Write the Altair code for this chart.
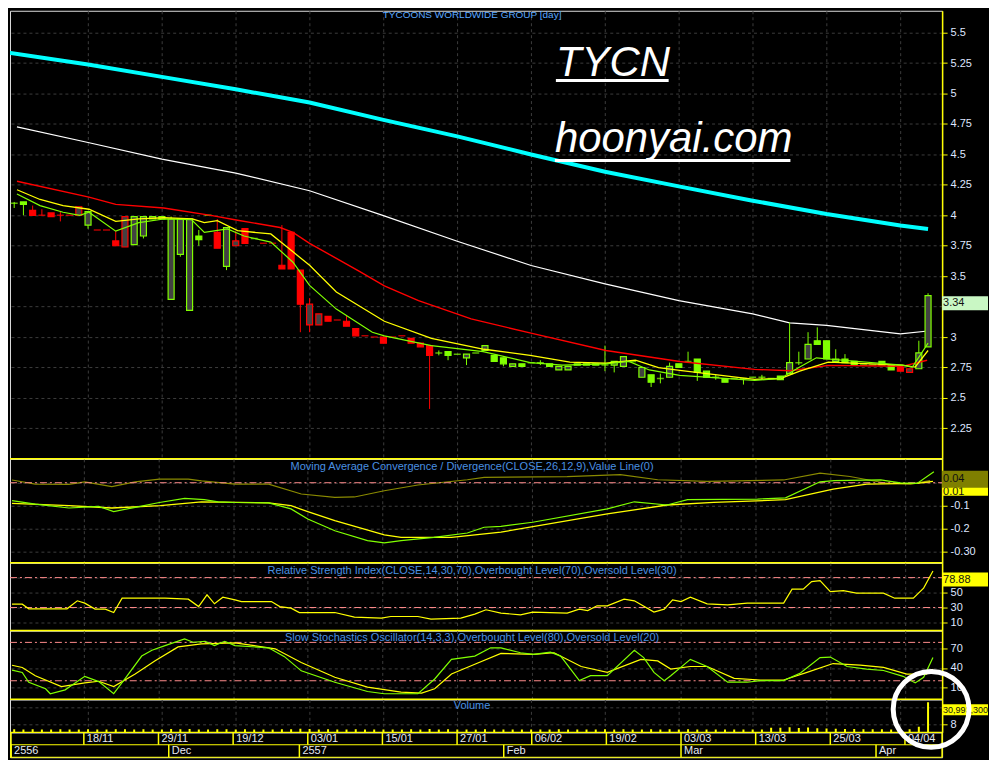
import altair as alt
import pandas as pd

# ---------------- layout (pixels) ----------------
W = 934
BOX_W = 46
H_PRICE, H_MACD, H_RSI, H_STO, H_VOL, H_AX = 449, 104, 68, 69, 33, 25
XDOM = [0.086, 99.98]

# ---------------- x axis labels ----------------
GRID_IDX = [8, 16, 24, 32, 40, 48, 56, 64, 72, 80, 88, 96]
DATE_LABELS = ["18/11", "29/11", "19/12", "03/01", "15/01", "27/01",
               "06/02", "19/02", "03/03", "13/03", "25/03", "04/04"]
MONTH_IDX = [0.2, 17.1, 31.1, 53.0, 72.0, 92.9]
MONTH_LABELS = ["2556", "Dec", "2557", "Feb", "Mar", "Apr"]

# ---------------- candles ----------------
OPEN = [4.10, 4.11, 4.04, 4.00, 4.02, 4.00, 4.00, 4.00, 3.92, 3.88,
        3.88, 3.79, 3.74, 3.76, 3.83, 3.97, 3.97, 3.31, 3.68, 3.22,
        3.83, 4.00, 3.86, 3.58, 3.75, 3.89, 3.81, 3.77, 3.77, 3.59,
        3.86, 3.55, 3.10, 3.10, 3.17, 3.14, 3.13, 3.07, 3.01, 3.00,
        3.00, 3.00, 3.01, 2.99, 2.95, 2.93, 2.87, 2.88, 2.86, 2.83,
        2.87, 2.89, 2.85, 2.83, 2.76, 2.78, 2.79, 2.79, 2.78, 2.73,
        2.73, 2.77, 2.78, 2.77, 2.77, 2.77, 2.76, 2.80, 2.67, 2.69,
        2.66, 2.67, 2.78, 2.80, 2.82, 2.72, 2.67, 2.66, 2.66, 2.66,
        2.67, 2.67, 2.66, 2.68, 2.70, 2.79, 2.82, 2.97, 2.97, 2.80,
        2.82, 2.80, 2.77, 2.77, 2.80, 2.77, 2.75, 2.71, 2.74, 2.92]
HIGH = [4.11, 4.11, 4.08, 4.05, 4.02, 4.03, 4.00, 4.07, 4.03, 3.88,
        3.88, 3.87, 3.99, 3.99, 3.99, 3.99, 3.99, 3.99, 3.97, 3.97,
        3.88, 4.00, 3.97, 3.90, 3.87, 3.89, 3.81, 3.77, 3.77, 3.92,
        3.86, 3.55, 3.32, 3.19, 3.17, 3.14, 3.18, 3.07, 3.01, 3.00,
        3.00, 3.00, 3.01, 2.99, 2.95, 2.93, 2.89, 2.88, 2.86, 2.86,
        2.87, 2.93, 2.85, 2.83, 2.78, 2.78, 2.79, 2.81, 2.78, 2.76,
        2.76, 2.78, 2.78, 2.78, 2.93, 2.80, 2.84, 2.80, 2.75, 2.69,
        2.70, 2.79, 2.78, 2.88, 2.82, 2.72, 2.69, 2.66, 2.66, 2.66,
        2.67, 2.69, 2.66, 2.68, 3.12, 2.88, 3.04, 3.08, 2.97, 2.90,
        2.86, 2.80, 2.77, 2.77, 2.80, 2.77, 2.75, 2.74, 2.97, 3.36]
LOW = [4.06, 4.00, 4.00, 4.00, 3.99, 3.95, 4.00, 4.00, 3.89, 3.88,
       3.88, 3.75, 3.74, 3.76, 3.81, 3.97, 3.97, 3.31, 3.66, 3.22,
       3.75, 4.00, 3.73, 3.55, 3.75, 3.77, 3.81, 3.77, 3.77, 3.56,
       3.56, 3.04, 3.04, 3.10, 3.13, 3.14, 3.09, 3.01, 3.01, 3.00,
       2.95, 3.00, 3.01, 2.95, 2.92, 2.41, 2.85, 2.81, 2.86, 2.77,
       2.87, 2.89, 2.80, 2.76, 2.76, 2.76, 2.79, 2.77, 2.76, 2.73,
       2.73, 2.77, 2.77, 2.77, 2.72, 2.71, 2.76, 2.80, 2.67, 2.59,
       2.62, 2.67, 2.75, 2.80, 2.64, 2.67, 2.65, 2.63, 2.66, 2.61,
       2.67, 2.65, 2.66, 2.65, 2.70, 2.77, 2.82, 2.94, 2.82, 2.80,
       2.79, 2.77, 2.77, 2.77, 2.77, 2.73, 2.72, 2.71, 2.74, 2.92]
CLOSE = [4.10, 4.09, 4.00, 4.00, 3.99, 4.00, 4.00, 4.07, 4.03, 3.88,
         3.88, 3.75, 3.99, 3.99, 3.99, 3.99, 3.99, 3.97, 3.97, 3.97,
         3.80, 4.00, 3.73, 3.90, 3.79, 3.77, 3.81, 3.77, 3.77, 3.56,
         3.56, 3.27, 3.27, 3.19, 3.13, 3.14, 3.09, 3.01, 3.01, 3.00,
         2.95, 3.00, 3.01, 2.95, 2.92, 2.85, 2.87, 2.85, 2.86, 2.86,
         2.87, 2.93, 2.80, 2.78, 2.78, 2.76, 2.79, 2.79, 2.76, 2.76,
         2.76, 2.78, 2.77, 2.78, 2.77, 2.80, 2.84, 2.80, 2.75, 2.63,
         2.66, 2.76, 2.75, 2.80, 2.71, 2.67, 2.67, 2.63, 2.66, 2.66,
         2.67, 2.67, 2.66, 2.65, 2.79, 2.79, 2.94, 2.94, 2.82, 2.82,
         2.79, 2.77, 2.77, 2.77, 2.77, 2.73, 2.72, 2.74, 2.87, 3.34]
CANDLE_COLOR = list("ggrrrrrrgrrrrgggggggggrgrrg"
                    "rrrrrrrrrrrrrrrrrrr"
                    "gggggggggggggggggggggggggggggggggggggggggggggggggg"
                    "rrgg")
HOLLOW_IDX = [7, 8, 12, 13, 14, 15, 16, 17, 18, 19, 23, 24, 32, 33, 49, 51, 54,
              59, 60, 61, 63, 65, 66, 68, 71, 84, 86, 89, 97, 98, 99]
VOLUME = [3.2, 3.0, 3.1, 2.9, 3.0, 3.1, 2.9, 3.0, 3.2, 3.0,
          3.0, 3.1, 3.2, 3.0, 3.1, 2.9, 3.0, 3.4, 3.1, 3.5,
          3.0, 2.9, 3.1, 3.2, 3.0, 3.1, 2.9, 3.0, 3.0, 3.2,
          3.1, 3.6, 3.3, 3.0, 3.1, 2.9, 3.0, 3.1, 3.0, 2.9,
          3.0, 2.9, 3.0, 3.1, 3.0, 3.4, 3.0, 3.1, 2.9, 3.0,
          3.0, 3.1, 3.0, 2.9, 3.0, 3.0, 2.9, 3.0, 3.0, 3.1,
          3.0, 2.9, 3.0, 3.0, 3.2, 3.0, 3.1, 2.9, 3.0, 3.1,
          3.0, 3.1, 3.0, 3.1, 3.0, 3.0, 2.9, 3.0, 3.0, 3.0,
          3.0, 3.0, 4.8, 4.6, 5.2, 4.4, 5.0, 4.2, 4.0, 3.6,
          3.5, 3.3, 3.2, 3.1, 3.2, 3.0, 3.0, 3.1, 5.6, 30.99]

# ---------------- moving averages ----------------
CYAN_I = [-0.7, 8, 16, 24, 32, 40, 48, 56, 64, 72, 80, 88, 96, 99]
CYAN_V = [5.336, 5.238, 5.137, 5.035, 4.926, 4.784, 4.648, 4.50, 4.358, 4.238, 4.120, 4.011, 3.916, 3.888]
WHITE_I = [0.3, 8, 16, 24, 32, 40, 48, 56, 64, 72, 80, 84, 88, 96, 99]
WHITE_V = [4.727, 4.598, 4.461, 4.347, 4.202, 3.998, 3.787, 3.588, 3.437, 3.30, 3.191, 3.117, 3.096, 3.027, 3.05]
RED_I = [0.3, 8.1, 11.0, 16.2, 21.3, 24.2, 28.8, 30.2, 32.0, 37.4, 40.1, 43.8, 47.4, 49.5,
         56.1, 64.1, 72.1, 80.2, 84.1, 88.2, 96.2, 98.9]
RED_V = [4.28, 4.15, 4.09, 4.06, 4.00, 3.96, 3.90, 3.86, 3.77, 3.54, 3.42, 3.30, 3.205, 3.15,
         3.03, 2.89, 2.80, 2.735, 2.724, 2.768, 2.76, 2.81]
YEL_I = [0.3, 2.8, 5.3, 8.1, 11.0, 13.5, 16.2, 19.3, 20.6, 22.0, 24.2, 27.8, 30.2, 32.0, 34.9,
         40.1, 45.2, 50.9, 55.9, 60.2, 64.1, 67.3, 69.8, 72.1, 80.2, 83.0, 85.1, 88.2, 96.2, 97.6, 99.0]
YEL_V = [4.21, 4.13, 4.08, 4.05, 3.95, 3.97, 3.98, 3.97, 3.94, 3.956, 3.874, 3.847, 3.70, 3.59, 3.37,
         3.13, 2.99, 2.90, 2.85, 2.795, 2.785, 2.81, 2.75, 2.727, 2.653, 2.66, 2.72, 2.795, 2.77, 2.754, 2.89]
GRN_I = [0.3, 2.8, 5.3, 7.1, 8.1, 11.0, 13.5, 16.2, 19.2, 20.6, 23.1, 24.9, 27.8, 30.2, 32.0, 34.9,
         38.8, 40.1, 45.2, 50.8, 55.9, 59.4, 64.1, 66.6, 68.8, 72.1, 80.2, 83.0, 85.1, 86.9, 88.2,
         96.2, 97.3, 99.0]
GRN_V = [4.175, 4.08, 4.025, 4.0, 4.025, 3.87, 3.94, 3.97, 3.965, 3.86, 3.888, 3.83, 3.78, 3.615, 3.425,
         3.23, 3.04, 3.01, 2.93, 2.88, 2.79, 2.77, 2.78, 2.80, 2.73, 2.686, 2.645, 2.66, 2.754, 2.83, 2.82,
         2.77, 2.754, 2.95]

# ---------------- MACD ----------------
MACD_I = [0.3, 2.8, 6.4, 9.6, 11.2, 13.5, 16.1, 18.8, 20.9, 22.4, 24.2, 27.8, 30.2, 32.0, 34.9, 38.4,
          40.2, 42.0, 45.5, 49.1, 50.9, 52.7, 56.1, 64.1, 67.0, 70.5, 72.7, 80.2, 83.2, 86.9, 88.4,
          93.4, 95.5, 97.3, 99.1]
MACD_V = [-0.078, -0.093, -0.11, -0.103, -0.126, -0.107, -0.086, -0.068, -0.074, -0.083, -0.086, -0.088,
          -0.114, -0.158, -0.209, -0.252, -0.262, -0.252, -0.238, -0.219, -0.194, -0.19, -0.172, -0.114,
          -0.083, -0.097, -0.074, -0.071, -0.066, 0.004, 0.009, 0.012, -0.001, -0.003, 0.048]
SIG_I = [0.3, 6.4, 11.0, 16.2, 20.6, 27.8, 30.2, 32.0, 34.9, 40.2, 42.0, 47.4, 52.7, 64.1, 70.5, 75.5,
         83.2, 88.3, 91.9, 97.3, 99.0]
SIG_V = [-0.09, -0.10, -0.11, -0.10, -0.083, -0.088, -0.10, -0.126, -0.165, -0.227, -0.238, -0.238,
         -0.215, -0.136, -0.097, -0.086, -0.074, -0.028, -0.006, -0.003, 0.006]
OLV_I = [0.3, 2.8, 6.4, 8.1, 11.0, 13.5, 16.1, 19.2, 20.6, 24.2, 27.8, 31.3, 34.9, 37.0, 40.2, 43.8,
         49.1, 50.9, 59.8, 65.5, 69.5, 74.8, 83.0, 86.9, 90.1, 93.7, 96.6, 98.7]
OLV_V = [0.012, -0.006, -0.007, 0.004, -0.017, 0.004, 0.016, 0.016, 0.008, -0.006, -0.006, -0.049,
         -0.064, -0.062, -0.035, -0.01, 0.013, 0.023, 0.027, 0.035, 0.013, 0.006, 0.012, 0.042, 0.027,
         0.0, -0.006, 0.009]

# ---------------- RSI ----------------
RSI_I = [0.3, 1.4, 2.1, 6.2, 7.3, 8.1, 9.2, 10.3, 11.2, 12.1, 16.7, 19.2, 20.3, 21.2, 22.0, 22.9, 24.2,
         24.9, 28.1, 29.0, 30.2, 31.1, 34.9, 37.0, 39.9, 40.9, 43.8, 45.2, 48.4, 49.9, 51.1, 52.7, 54.8,
         56.1, 59.8, 61.1, 62.0, 63.0, 64.1, 65.9, 67.0, 69.1, 70.2, 71.1, 72.0, 73.0, 74.8, 77.0, 79.1,
         83.0, 83.9, 85.1, 86.0, 86.9, 88.0, 89.4, 90.8, 93.7, 94.9, 96.9, 98.0, 99.0]
RSI_V = [34.5, 34.5, 28.3, 28.3, 39, 35.9, 27.9, 27.9, 23.3, 42.5, 42.5, 41.2, 31.3, 47, 35, 43.8, 40.3,
         38, 38, 31.3, 29.2, 23.3, 23.3, 17.1, 15.8, 18, 18, 14.5, 15.8, 21.2, 27, 22.5, 20.3,
         23.9, 22.5, 27.9, 26, 32.3, 32.3, 41.2, 39, 23.9, 27.9, 40.3, 38, 43.8, 35, 33.6, 35.9,
         35.9, 54.5, 54.5, 64.7, 66, 51.3, 52.7, 49.2, 49.2, 42.5, 42.5, 55.9, 78.9]

# ---------------- Slow stochastics ----------------
K_I = [0.3, 1.4, 2.1, 3.9, 4.4, 6.0, 8.1, 9.6, 11.2, 12.4, 14.2, 15.3, 16.7, 18.8, 19.7, 21.0, 22.0,
       23.1, 24.2, 27.8, 29.5, 31.3, 34.9, 38.4, 40.2, 43.8, 45.6, 47.4, 49.9, 51.6, 52.7, 54.8, 56.2,
       58.0, 59.1, 61.1, 62.3, 64.1, 67.0, 68.0, 69.1, 70.2, 70.9, 73.0, 74.8, 77.0, 79.1, 80.5, 83.0,
       84.8, 86.9, 88.0, 89.8, 91.9, 93.7, 95.8, 97.1, 98.0, 99.0]
K_V = [36.6, 33, 17.7, 7.4, -0.3, 5.8, 26.9, 18.6, -0.3, 22.8, 58.6, 67.8, 75, 85.4, 80.2, 81.7, 75,
       81.7, 75, 71.5, 57.7, 35.5, 17.7, 3.2, -0.3, -0.3, 22.8, 53.5, 58.6, 71.5, 71.5, 63.8, 61.2,
       64.8, 58.6, 20.2, 27.9, 27.9, 67.8, 56.2, 33.1, 20.2, 27.9, 53.5, 42.3, 17.7, 17.7, 20.2, 20.2,
       32, 56.2, 57.1, 42.3, 38.2, 36, 26.9, 16.6, 25.4, 56.2]
D_I = [0.3, 1.4, 2.8, 5.6, 8.1, 9.6, 11.2, 13.5, 15.6, 18.1, 20.6, 24.2, 28.5, 31.3, 34.9, 38.4, 42.0,
       44.2, 45.6, 47.4, 49.9, 52.7, 56.2, 58.4, 61.3, 64.1, 67.7, 69.5, 70.9, 73.0, 74.8, 77.7, 80.5,
       83.0, 85.5, 88.3, 91.2, 93.7, 96.2, 98.3, 99.0]
D_V = [44.3, 40.8, 27.9, 10.9, 16.6, 19.2, 10.9, 30.5, 51, 73, 77.7, 79.2, 70, 48.5, 25.4, 10, 2.3,
       0.8, 7.4, 30.5, 45.8, 62.8, 61.2, 63.8, 42.3, 33.1, 53.5, 51, 38.2, 42.3, 42.3, 23.8, 21.2,
       21.2, 33.1, 46.9, 44.3, 40.8, 30.5, 30.5, 38]

# ---------------- styling ----------------
GREEN = "#80ff00"
RED = "#ff0000"
YELLOW = "#ffff00"
HOLLOW_FILL = "#424242"
LEVEL = "#ff8c8c"
TITLE_BLUE = "#4a90e2"
LABEL = "#dfe6ff"
GRIDC = "#3c3c3c"
FONT = "Liberation Sans"

one = pd.DataFrame({"a": [0]})

XAXIS = alt.Axis(values=GRID_IDX, labels=False, ticks=False, domain=False, grid=True,
                 gridColor=GRIDC, gridDash=[3, 3], title=None, zindex=0)


def xenc(field="i", grid=True):
    return alt.X(f"{field}:Q", scale=alt.Scale(domain=XDOM, nice=False, zero=False),
                 axis=XAXIS if grid else None)


def yaxis(values, label_expr):
    return alt.Axis(orient="right", values=values, title=None, grid=True, gridColor=GRIDC,
                    gridDash=[3, 3], domainColor=YELLOW, domainWidth=1.5, tickColor=YELLOW,
                    tickSize=5, labelColor=LABEL, labelFontSize=11, labelFont=FONT,
                    labelPadding=3, labelOverlap=False, labelExpr=label_expr, zindex=0)


def series(idx, vals):
    return pd.DataFrame({"i": idx, "v": vals})


def top_rule():
    return alt.Chart(one).mark_rule(color=YELLOW, strokeWidth=1.5).encode(
        x=alt.value(0), x2=alt.value(W), y=alt.value(0))


def panel_title(text, y):
    return alt.Chart(one).mark_text(text=text, color=TITLE_BLUE, fontSize=11, font=FONT,
                                    align="center", baseline="middle").encode(
        x=alt.value(463), y=alt.value(y))


def value_box(y0, y1, fill):
    return alt.Chart(one).mark_rect(color=fill).encode(
        x=alt.value(W), x2=alt.value(W + BOX_W), y=alt.value(y0), y2=alt.value(y1))


def value_text(text, y, size=11, color="#111111"):
    return alt.Chart(one).mark_text(text=text, color=color, fontSize=size, font=FONT,
                                    align="left", baseline="middle").encode(
        x=alt.value(W + 1), y=alt.value(y))


# ---------------- price panel ----------------
PSCALE = alt.Scale(domain=[2.0, 5.68], nice=False, zero=False)
PAXIS = yaxis([2.25, 2.5, 2.75, 3, 3.25, 3.5, 3.75, 4, 4.25, 4.5, 4.75, 5, 5.25, 5.5],
              "datum.value == 3.25 ? '' : '' + datum.value")

cd = pd.DataFrame({"i": list(range(len(CLOSE))), "o": OPEN, "h": HIGH, "l": LOW, "c": CLOSE})
cd["col"] = [GREEN if k == "g" else RED for k in CANDLE_COLOR]
cd["hol"] = [k in HOLLOW_IDX for k in cd["i"]]
cd["top"] = cd[["o", "c"]].max(axis=1)
cd["bot"] = cd[["o", "c"]].min(axis=1)
cd["fillc"] = [HOLLOW_FILL if h else c for h, c in zip(cd["hol"], cd["col"])]
body = cd[cd["o"] != cd["c"]]
doji = cd[cd["o"] == cd["c"]]


def pline(idx, vals, color, width):
    return alt.Chart(series(idx, vals)).mark_line(color=color, strokeWidth=width, clip=True).encode(
        x=xenc(), y=alt.Y("v:Q", scale=PSCALE, axis=PAXIS))


wicks = alt.Chart(cd).mark_rule(strokeWidth=1, clip=True).encode(
    x=xenc(), y=alt.Y("l:Q", scale=PSCALE, axis=PAXIS), y2="h:Q",
    color=alt.Color("col:N", scale=None))
bodies = alt.Chart(body).mark_bar(width=6, strokeWidth=1.2, clip=True).encode(
    x=xenc(), y=alt.Y("top:Q", scale=PSCALE, axis=PAXIS), y2="bot:Q",
    fill=alt.Fill("fillc:N", scale=None), stroke=alt.Stroke("col:N", scale=None))
dojis = alt.Chart(doji).mark_tick(orient="horizontal", size=7, thickness=1.5, clip=True).encode(
    x=xenc(), y=alt.Y("c:Q", scale=PSCALE, axis=PAXIS), color=alt.Color("col:N", scale=None))

price = alt.layer(
    pline(CYAN_I, CYAN_V, "#00ffff", 4),
    pline(WHITE_I, WHITE_V, "#ffffff", 1.2),
    wicks, bodies, dojis,
    pline(RED_I, RED_V, RED, 1.4),
    pline(YEL_I, YEL_V, YELLOW, 1.3),
    pline(GRN_I, GRN_V, GREEN, 1.2),
    alt.Chart(one).mark_text(text="TYCOONS WORLDWIDE GROUP [day]", color="#5aa8ff", fontSize=10,
                             font=FONT, align="center", baseline="middle").encode(
        x=alt.value(463), y=alt.value(4)),
    alt.Chart(one).mark_text(text="TYCN", color="white", fontSize=42, fontStyle="italic", font=FONT,
                             align="left", baseline="alphabetic").encode(
        x=alt.value(547), y=alt.value(65)),
    alt.Chart(one).mark_rule(color="white", strokeWidth=3).encode(
        x=alt.value(547), x2=alt.value(660), y=alt.value(70)),
    alt.Chart(one).mark_text(text="hoonyai.com", color="white", fontSize=42, fontStyle="italic",
                             font=FONT, align="left", baseline="alphabetic").encode(
        x=alt.value(546), y=alt.value(142)),
    alt.Chart(one).mark_rule(color="white", strokeWidth=3).encode(
        x=alt.value(546), x2=alt.value(782), y=alt.value(150)),
    value_box(286, 300, "#c9f7c4"),
    value_text("3.34", 293),
).properties(width=W, height=H_PRICE)

# ---------------- MACD panel ----------------
MSCALE = alt.Scale(domain=[-0.348, 0.104], nice=False, zero=False)
MAXIS = yaxis([0, -0.1, -0.2, -0.3],
              "datum.value > -0.05 ? '' : (datum.value > -0.15 ? '-0.1' : "
              "(datum.value > -0.25 ? '-0.2' : '-0.30'))")


def mline(idx, vals, color, width):
    return alt.Chart(series(idx, vals)).mark_line(color=color, strokeWidth=width).encode(
        x=xenc(), y=alt.Y("v:Q", scale=MSCALE, axis=MAXIS))


macd = alt.layer(
    mline(OLV_I, OLV_V, "#8a8a00", 1.2),
    alt.Chart(pd.DataFrame({"v": [0.0]})).mark_rule(
        color=LEVEL, strokeDash=[7, 3, 2, 3], strokeWidth=1).encode(
        x=alt.value(0), x2=alt.value(W), y=alt.Y("v:Q", scale=MSCALE, axis=MAXIS)),
    mline(SIG_I, SIG_V, YELLOW, 1.3),
    mline(MACD_I, MACD_V, GREEN, 1.2),
    top_rule(),
    panel_title("Moving Average Convergence / Divergence(CLOSE,26,12,9),Value Line(0)", 8),
    value_box(22, 37, YELLOW),
    value_text("0.01", 33),
    value_box(12, 29, "#7f7f00"),
    value_text("0.04", 20),
).properties(width=W, height=H_MACD)

# ---------------- RSI panel ----------------
RSCALE = alt.Scale(domain=[-0.7, 90], nice=False, zero=False)
RAXIS = yaxis([70, 50, 30, 10], "datum.value > 60 ? '' : '' + datum.value")

rsi = alt.layer(
    alt.Chart(pd.DataFrame({"lv": [70, 30]})).mark_rule(
        color=LEVEL, strokeDash=[7, 3, 2, 3], strokeWidth=1).encode(
        x=alt.value(0), x2=alt.value(W), y=alt.Y("lv:Q", scale=RSCALE, axis=RAXIS)),
    alt.Chart(series(RSI_I, RSI_V)).mark_line(color=YELLOW, strokeWidth=1.2).encode(
        x=xenc(), y=alt.Y("v:Q", scale=RSCALE, axis=RAXIS)),
    top_rule(),
    panel_title("Relative Strength Index(CLOSE,14,30,70),Overbought Level(70),Oversold Level(30)", 8),
    value_box(10, 24, YELLOW),
    value_text("78.88", 17),
).properties(width=W, height=H_RSI)

# ---------------- Stochastic panel ----------------
SSCALE = alt.Scale(domain=[-9.1, 98.6], nice=False, zero=False)
SAXIS = yaxis([70, 40, 10], "'' + datum.value")

sto = alt.layer(
    alt.Chart(pd.DataFrame({"lv": [80, 20]})).mark_rule(
        color=LEVEL, strokeDash=[7, 3, 2, 3], strokeWidth=1).encode(
        x=alt.value(0), x2=alt.value(W), y=alt.Y("lv:Q", scale=SSCALE, axis=SAXIS)),
    alt.Chart(series(D_I, D_V)).mark_line(color=YELLOW, strokeWidth=1.2).encode(
        x=xenc(), y=alt.Y("v:Q", scale=SSCALE, axis=SAXIS)),
    alt.Chart(series(K_I, K_V)).mark_line(color=GREEN, strokeWidth=1.2).encode(
        x=xenc(), y=alt.Y("v:Q", scale=SSCALE, axis=SAXIS)),
    top_rule(),
    panel_title("Slow Stochastics Oscillator(14,3,3),Overbought Level(80),Oversold Level(20)", 8),
).properties(width=W, height=H_STO)

# ---------------- Volume panel ----------------
VSCALE = alt.Scale(domain=[0, 34], nice=False, zero=True)
VAXIS = yaxis([8, 26], "datum.value > 20 ? '' : '' + datum.value")
vd = pd.DataFrame({"i": list(range(len(VOLUME))), "v": VOLUME})

vol = alt.layer(
    alt.Chart(vd).mark_bar(width=2, color=YELLOW, clip=True).encode(
        x=xenc(), y=alt.Y("v:Q", scale=VSCALE, axis=VAXIS)),
    top_rule(),
    panel_title("Volume", 7),
    value_box(5, 16, YELLOW),
    value_text("30,993,300", 10.5, size=9),
).properties(width=W, height=H_VOL)

# ---------------- date axis panel ----------------
ASCALE = alt.Scale(domain=[0, 2], nice=False, zero=False)
rows = pd.DataFrame({"r": [2, 1, 0]})
dates = pd.DataFrame({"i": GRID_IDX, "lab": DATE_LABELS})
months = pd.DataFrame({"i": MONTH_IDX, "lab": MONTH_LABELS})

axis_panel = alt.layer(
    alt.Chart(rows).mark_rule(color=YELLOW, strokeWidth=1.2).encode(
        x=alt.value(0), x2=alt.value(W), y=alt.Y("r:Q", scale=ASCALE, axis=None)),
    alt.Chart(dates).mark_rule(color=YELLOW, strokeWidth=1.5).encode(
        x=xenc(grid=False), y=alt.datum(1), y2=alt.datum(2)),
    alt.Chart(months).mark_rule(color=YELLOW, strokeWidth=1.5).encode(
        x=xenc(grid=False), y=alt.datum(0), y2=alt.datum(1)),
    alt.Chart(one).mark_rule(color=YELLOW, strokeWidth=1.5).encode(
        x=alt.value(1), y=alt.value(0), y2=alt.value(H_AX)),
    alt.Chart(one).mark_rule(color=YELLOW, strokeWidth=1.5).encode(
        x=alt.value(W), y=alt.value(0), y2=alt.value(H_AX)),
    alt.Chart(dates).mark_text(align="left", baseline="middle", dx=3, color="#e6e9f2",
                               fontSize=11, font=FONT).encode(
        x=xenc(grid=False), y=alt.datum(1.5), text="lab:N"),
    alt.Chart(months).mark_text(align="left", baseline="middle", dx=3, color="#e6e9f2",
                                fontSize=11, font=FONT).encode(
        x=xenc(grid=False), y=alt.datum(0.5), text="lab:N"),
    alt.Chart(one).mark_point(shape="circle", size=5776, filled=False, stroke="white",
                              strokeWidth=5, opacity=1).encode(
        x=alt.value(923), y=alt.value(-23)),
).properties(width=W, height=H_AX)

chart = alt.vconcat(price, macd, rsi, sto, vol, axis_panel, spacing=0, bounds="flush").properties(
    background="black", padding=0
).configure_view(stroke=None).configure(font=FONT)

chart.save("out.html", embed_options={"renderer": "svg", "actions": False})
